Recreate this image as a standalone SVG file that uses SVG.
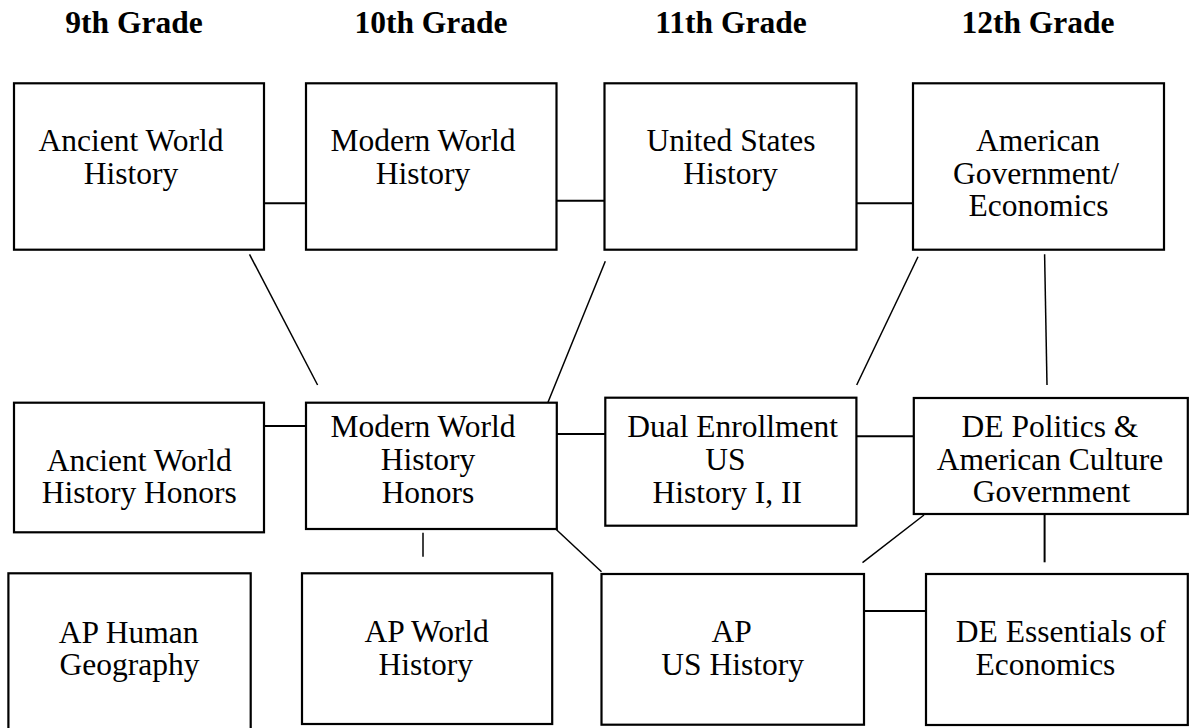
<svg xmlns="http://www.w3.org/2000/svg" width="1190" height="728" viewBox="0 0 1190 728">
<style>
.box{fill:#fff;stroke:#000;stroke-width:2.2}
.t{font-family:"Liberation Serif","Times New Roman",serif;font-size:31.5px;fill:#000;text-anchor:middle}
.h{font-family:"Liberation Serif","Times New Roman",serif;font-size:31.5px;font-weight:bold;fill:#000;text-anchor:middle}
.c{stroke:#000;stroke-width:2;fill:none}
.d{stroke:#000;stroke-width:1.5;fill:none}
</style>
<rect width="1190" height="728" fill="#fff"/>
<g id="headings">
<text class="h" x="134" y="33">9th Grade</text>
<text class="h" x="431" y="33">10th Grade</text>
<text class="h" x="731" y="33">11th Grade</text>
<text class="h" x="1038" y="33">12th Grade</text>
</g>
<g id="connectors">
<line class="c" x1="264" y1="203.3" x2="306" y2="203.3"/>
<line class="c" x1="556.5" y1="200.7" x2="604.5" y2="200.7"/>
<line class="c" x1="856.4" y1="203.3" x2="913" y2="203.3"/>
<line class="d" x1="249.5" y1="254.3" x2="317.6" y2="385"/>
<line class="d" x1="605.3" y1="261.3" x2="548" y2="402.3"/>
<line class="d" x1="918" y1="256.7" x2="856.7" y2="385"/>
<line class="d" x1="1044.6" y1="254.3" x2="1047" y2="385"/>
<line class="c" x1="264" y1="426" x2="306" y2="426"/>
<line class="c" x1="557" y1="434" x2="605" y2="434"/>
<line class="c" x1="857" y1="436.3" x2="914" y2="436.3"/>
<line class="d" x1="423" y1="532.7" x2="423" y2="556.7"/>
<line class="d" x1="555.7" y1="529" x2="601.5" y2="571.7"/>
<line class="d" x1="924" y1="515" x2="862.5" y2="562.7"/>
<line class="c" x1="1044.6" y1="514" x2="1044.6" y2="562.3"/>
<line class="c" x1="864" y1="611" x2="926" y2="611"/>
</g>
<g id="awh">
<rect class="box" x="14" y="83.3" width="250" height="166.4"/>
<text class="t" x="131" y="150.7">Ancient World</text>
<text class="t" x="131" y="183.5">History</text>
</g>
<g id="mwh">
<rect class="box" x="306" y="83.3" width="250.5" height="166.4"/>
<text class="t" x="423" y="150.7">Modern World</text>
<text class="t" x="423" y="183.5">History</text>
</g>
<g id="ush">
<rect class="box" x="604.5" y="83.3" width="252" height="166.4"/>
<text class="t" x="731" y="150.7">United States</text>
<text class="t" x="730.5" y="183.5">History</text>
</g>
<g id="amgov">
<rect class="box" x="913" y="83.3" width="251" height="166.4"/>
<text class="t" x="1038" y="150.7">American</text>
<text class="t" x="1036" y="183.5">Government/</text>
<text class="t" x="1038.5" y="216.3">Economics</text>
</g>
<g id="awhh">
<rect class="box" x="14" y="402.7" width="250" height="129.6"/>
<text class="t" x="139.3" y="470.5">Ancient World</text>
<text class="t" x="139.3" y="503.3">History Honors</text>
</g>
<g id="mwhh">
<rect class="box" x="306" y="402.7" width="250.8" height="126.3"/>
<text class="t" x="423" y="436.7">Modern World</text>
<text class="t" x="428" y="470">History</text>
<text class="t" x="428" y="503">Honors</text>
</g>
<g id="deus">
<rect class="box" x="605.3" y="397.7" width="251.1" height="128"/>
<text class="t" x="732.6" y="436.7">Dual Enrollment</text>
<text class="t" x="725.3" y="470">US</text>
<text class="t" x="727.2" y="503">History I, II</text>
</g>
<g id="depol">
<rect class="box" x="913.8" y="398" width="274" height="116"/>
<text class="t" x="1050" y="436.5">DE Politics &amp;</text>
<text class="t" x="1050" y="469.5">American Culture</text>
<text class="t" x="1051.5" y="502">Government</text>
</g>
<g id="aphg">
<rect class="box" x="8.4" y="573.3" width="242.3" height="160"/>
<text class="t" x="128.6" y="642.5">AP Human</text>
<text class="t" x="129.5" y="675">Geography</text>
</g>
<g id="apwh">
<rect class="box" x="302" y="573.3" width="250.2" height="150.7"/>
<text class="t" x="426.7" y="642">AP World</text>
<text class="t" x="425.8" y="675">History</text>
</g>
<g id="apush">
<rect class="box" x="601.5" y="574" width="262.5" height="150.7"/>
<text class="t" x="731.6" y="642">AP</text>
<text class="t" x="732.6" y="675">US History</text>
</g>
<g id="deecon">
<rect class="box" x="926" y="574" width="261.8" height="151"/>
<text class="t" x="1060.8" y="642">DE Essentials of</text>
<text class="t" x="1045.4" y="675">Economics</text>
</g>
</svg>
